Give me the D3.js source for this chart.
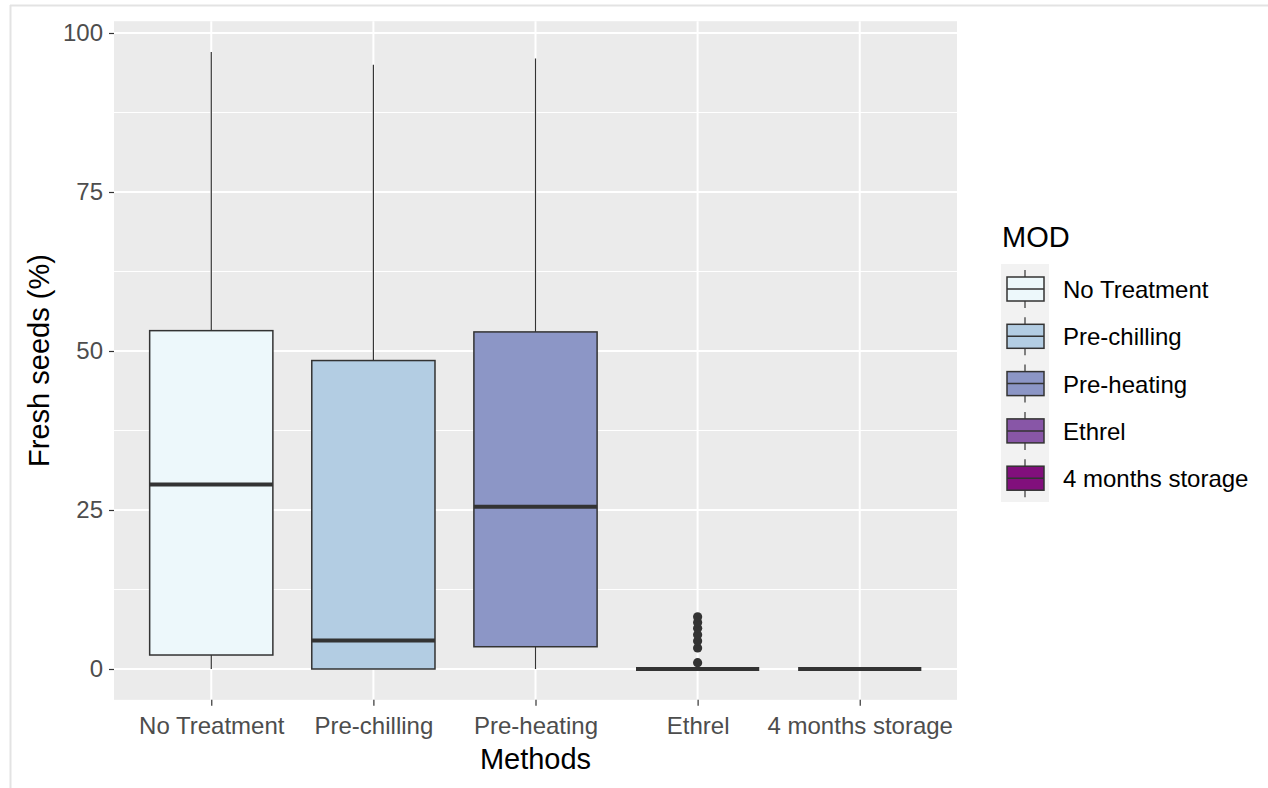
<!DOCTYPE html>
<html lang="en">
<head>
  <meta charset="utf-8">
  <title>Fresh seeds by method</title>
  <script type="text/javascript" src="https://d3js.org/d3.v7.min.js"></script>
</head>
<style>
body {
  margin: 0;
  background: white;
  font-family: "Liberation Sans", Arial, sans-serif;
}
</style>
<body>
  <script type="text/javascript">
  // data
  var methods = ["No Treatment", "Pre-chilling", "Pre-heating", "Ethrel", "4 months storage"];
  var lowWhisker = [0, 0, 0, 0, 0];
  var q1 = [2.2, 0, 3.5, 0, 0];
  var medians = [29, 4.5, 25.5, 0, 0];
  var q3 = [53.2, 48.5, 53, 0, 0];
  var highWhisker = [97, 95, 96, 0, 0];
  var ethrelOutliers = [1, 3.3, 4.4, 5.4, 6.4, 7.3, 8.2];
  var fills = ["#edf8fb", "#b3cde3", "#8c96c6", "#8856a7", "#810f7c"];
  var yTicks = [0, 25, 50, 75, 100];
  var yMinor = [12.5, 37.5, 62.5, 87.5];

  var w = 1268, h = 788;
  var left = 114, right = 957;

  var svg = d3.select("body").append("svg")
      .attr("width", w)
      .attr("height", h);

  // light frame of the screenshot
  svg.append("line").attr("x1", 10).attr("x2", w).attr("y1", 5.5).attr("y2", 5.5)
     .attr("stroke", "#e3e3e3").attr("stroke-width", 2);
  svg.append("line").attr("x1", 10.5).attr("x2", 10.5).attr("y1", 5).attr("y2", h)
     .attr("stroke", "#e3e3e3").attr("stroke-width", 2);

  var y = d3.scaleLinear().domain([0, 100]).range([669, 33]);
  var panelTop = y(101.85), panelBottom = y(-4.85);
  var x = d3.scalePoint().domain(methods).range([left, right]).padding(0.6);
  var boxW = x.step() * 0.76;

  // panel
  svg.append("rect")
     .attr("x", left).attr("y", panelTop)
     .attr("width", right - left).attr("height", panelBottom - panelTop)
     .attr("fill", "#ebebeb");

  svg.selectAll(".minor").data(yMinor).enter().append("line")
     .attr("x1", left).attr("x2", right)
     .attr("y1", function(d) { return y(d); }).attr("y2", function(d) { return y(d); })
     .attr("stroke", "white").attr("stroke-width", 1);
  svg.selectAll(".major").data(yTicks).enter().append("line")
     .attr("x1", left).attr("x2", right)
     .attr("y1", function(d) { return y(d); }).attr("y2", function(d) { return y(d); })
     .attr("stroke", "white").attr("stroke-width", 2);
  svg.selectAll(".vgrid").data(methods).enter().append("line")
     .attr("x1", function(d) { return x(d); }).attr("x2", function(d) { return x(d); })
     .attr("y1", panelTop).attr("y2", panelBottom)
     .attr("stroke", "white").attr("stroke-width", 2);

  // axes
  var yAxis = svg.append("g")
     .attr("transform", "translate(" + left + ",0)")
     .call(d3.axisLeft(y).tickValues(yTicks).tickSize(5).tickPadding(6));
  var xAxis = svg.append("g")
     .attr("transform", "translate(0," + panelBottom + ")")
     .call(d3.axisBottom(x).tickSize(6).tickPadding(11));
  [yAxis, xAxis].forEach(function(a) {
    a.select(".domain").remove();
    a.selectAll(".tick line").attr("stroke", "#333333").attr("stroke-width", 1.2);
    a.selectAll("text").attr("fill", "#4d4d4d").style("font-size", "24px")
     .style("font-family", "'Liberation Sans', Arial, sans-serif");
  });

  // boxes
  var boxes = svg.append("g").selectAll("g").data(methods).enter().append("g");
  boxes.append("line")
     .attr("x1", function(d) { return x(d); }).attr("x2", function(d) { return x(d); })
     .attr("y1", function(d, i) { return y(q3[i]); })
     .attr("y2", function(d, i) { return y(highWhisker[i]); })
     .attr("stroke", "#333333").attr("stroke-width", 1.2);
  boxes.append("line")
     .attr("x1", function(d) { return x(d); }).attr("x2", function(d) { return x(d); })
     .attr("y1", function(d, i) { return y(q1[i]); })
     .attr("y2", function(d, i) { return y(lowWhisker[i]); })
     .attr("stroke", "#333333").attr("stroke-width", 1.2);
  boxes.append("rect")
     .attr("x", function(d) { return x(d) - boxW / 2; })
     .attr("width", boxW)
     .attr("y", function(d, i) { return y(q3[i]); })
     .attr("height", function(d, i) { return y(q1[i]) - y(q3[i]); })
     .attr("fill", function(d, i) { return fills[i]; })
     .attr("stroke", "#333333").attr("stroke-width", 1.5);
  boxes.append("line")
     .attr("x1", function(d) { return x(d) - boxW / 2; })
     .attr("x2", function(d) { return x(d) + boxW / 2; })
     .attr("y1", function(d, i) { return y(medians[i]); })
     .attr("y2", function(d, i) { return y(medians[i]); })
     .attr("stroke", "#333333").attr("stroke-width", 4);

  svg.append("g").selectAll("circle").data(ethrelOutliers).enter().append("circle")
     .attr("cx", x("Ethrel"))
     .attr("cy", function(d) { return y(d); })
     .attr("r", 4.6)
     .attr("fill", "#333333");

  // axis titles
  svg.append("text")
     .attr("x", (left + right) / 2).attr("y", 769)
     .attr("text-anchor", "middle")
     .style("font-size", "29px")
     .text("Methods");
  svg.append("text")
     .attr("transform", "translate(49," + ((panelTop + panelBottom) / 2) + ") rotate(-90)")
     .attr("text-anchor", "middle")
     .style("font-size", "29px")
     .text("Fresh seeds (%)");

  // legend
  var lg = svg.append("g").attr("transform", "translate(1001,0)");
  lg.append("text").attr("x", 1).attr("y", 247).style("font-size", "29px").text("MOD");
  lg.append("rect").attr("x", 0).attr("y", 264).attr("width", 48).attr("height", 238)
    .attr("fill", "#f2f2f2");
  var items = lg.selectAll(".item").data(methods).enter().append("g")
    .attr("transform", function(d, i) { return "translate(0," + (289 + i * 47.3) + ")"; });
  items.append("line").attr("x1", 24).attr("x2", 24).attr("y1", -19).attr("y2", 19)
    .attr("stroke", "#333333").attr("stroke-width", 1.2);
  items.append("rect").attr("x", 6).attr("y", -12).attr("width", 37).attr("height", 24)
    .attr("fill", function(d, i) { return fills[i]; })
    .attr("stroke", "#333333").attr("stroke-width", 1.5);
  items.append("line").attr("x1", 6).attr("x2", 43).attr("y1", 0).attr("y2", 0)
    .attr("stroke", "#333333").attr("stroke-width", 1.5);
  items.append("text").attr("x", 62).attr("y", 9)
    .style("font-size", "24px")
    .text(function(d) { return d; });
  </script>
</body>
</html>
